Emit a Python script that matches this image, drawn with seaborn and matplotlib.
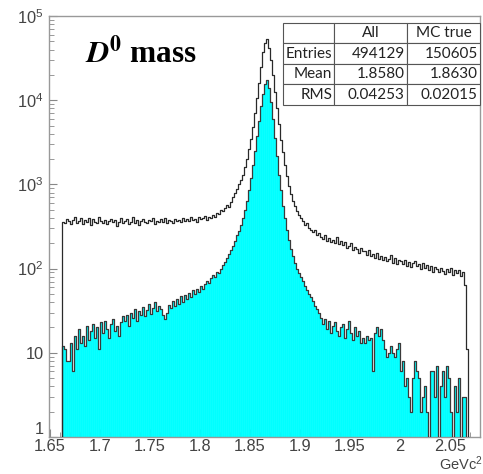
import numpy as np
import pandas as pd
import matplotlib
matplotlib.use("Agg")
import matplotlib.pyplot as plt
import matplotlib.ticker as mticker
import seaborn as sns

# ---------------- data ----------------
# histogram range incl. one empty bin at each end
mass_lo, mass_hi, n_bins = 1.660, 2.070, 205

all_counts = [
    0,
    # 1.662 - 1.810
    360, 345, 390, 370, 335, 380, 410, 350, 365, 395,
    340, 375, 355, 400, 330, 385, 360, 345, 405, 370,
    350, 380, 335, 365, 390, 355, 375, 320, 360, 395,
    345, 370, 385, 340, 360, 405, 350, 375, 330, 365,
    390, 355, 345, 380, 365, 400, 340, 370, 355, 385,
    360, 395, 345, 375, 365, 350, 390, 370, 380, 355,
    400, 365, 385, 370, 410, 375, 390, 360, 405, 385,
    395, 420, 380, 410, 400,
    # 1.812 - 1.918
    430, 410, 460, 440, 500, 480, 530, 570, 540, 620,
    700, 780, 880, 1000, 1120, 1300, 1600, 2000, 2600, 3500,
    4800, 7000, 10500, 16000, 25000, 37000, 48000, 53000, 42000, 30000,
    20000, 12500, 8000, 5200, 3400, 2400, 1700, 1250, 950, 760,
    640, 560, 480, 430, 400, 370, 330, 345, 300, 290,
    270, 285, 250, 265,
    # 1.920 - 2.066
    240, 225, 250, 215, 230, 205, 220, 200, 235, 195,
    210, 190, 205, 175, 185, 200, 165, 180, 170, 155,
    175, 160, 160, 145, 165, 140, 150, 132, 155, 130,
    142, 125, 136, 122, 130, 145, 118, 132, 114, 126,
    122, 112, 125, 108, 120, 104, 116, 122, 106, 112,
    100, 118, 103, 110, 96, 108, 92, 104, 98, 90,
    102, 94, 87, 99, 91, 102, 85, 95, 88, 96,
    82, 90, 64, 11,
    0,
]

mc_true_counts = [
    0,
    12, 11, 8, 8, 13, 6, 16, 11, 19, 13,
    16, 12, 21, 14, 18, 22, 15, 20, 11, 23,
    17, 24, 19, 15, 22, 25, 18, 21, 16, 23,
    27, 24, 28, 21, 30, 26, 33, 24, 31, 28,
    35, 27, 32, 38, 29, 34, 40, 31, 36, 33,
    28, 25, 30, 37, 34, 41, 36, 44, 38, 47,
    40, 49, 43, 52, 46, 55, 50, 58, 53, 62,
    57, 66, 72, 68, 78, 84, 79, 92, 88, 100,
    110, 120, 135, 150, 165, 185, 215, 250, 280, 330,
    400, 500, 640, 850, 1200, 1700, 2500, 3800, 5700, 8500,
    12000, 15500, 17500, 14000, 9500, 6000, 3600, 2200, 1300, 850,
    560, 400, 290, 220, 170, 140, 115, 100, 88, 80,
    72, 62, 55, 50, 46, 41, 36, 33, 30, 26,
    22, 25, 19, 24, 17, 21, 23, 18, 16, 20,
    22, 15, 19, 24, 17, 14, 20, 16, 18, 13,
    15, 13, 16, 14, 15, 6, 17, 20, 16, 19,
    14, 11, 9, 10, 12, 10, 9, 11, 13, 6,
    8, 4, 5, 3, 2, 5, 8, 6, 5, 2,
    3, 4, 2, 0, 6, 6, 3, 7, 0, 4,
    6, 3, 7, 5, 2, 0, 4, 2, 5, 0,
    3, 3, 0,
    0,
]

table_header = ["", "All", "MC true"]
table_rows = [
    ["Entries", "494129", "150605"],
    ["Mean", "1.8580", "1.8630"],
    ["RMS", "0.04253", "0.02015"],
]
x_ticks = [1.65, 1.70, 1.75, 1.80, 1.85, 1.90, 1.95, 2.00, 2.05]
x_tick_labels = ["1.65", "1.7", "1.75", "1.8", "1.85", "1.9", "1.95", "2", "2.05"]
title_text = r"$\mathbfit{D}^{\mathbf{0}}$ mass"
unit_text = r"GeVc$^{2}$"

# ---------------- figure ----------------
edges = list(np.linspace(mass_lo, mass_hi, n_bins + 1))
centers = [0.5 * (a + b) for a, b in zip(edges[:-1], edges[1:])]
df = pd.DataFrame({"mass": centers, "all": all_counts, "mc": mc_true_counts})

plt.rcParams["mathtext.fontset"] = "custom"
plt.rcParams["mathtext.rm"] = "Liberation Sans"
plt.rcParams["mathtext.it"] = "Liberation Sans:italic"
plt.rcParams["mathtext.bf"] = "Liberation Sans:bold"
plt.rcParams["font.family"] = ["Liberation Sans", "DejaVu Sans"]

W, H = 483, 474
fig = plt.figure(figsize=(W / 100, H / 100), dpi=100)
ax_l, ax_r, ax_t, ax_b = 49, 480, 16, 437
ax = fig.add_axes([ax_l / W, 1 - ax_b / H, (ax_r - ax_l) / W, (ax_b - ax_t) / H])

# cyan fill (MC true)
sns.histplot(data=df, x="mass", weights="mc", bins=edges, element="bars",
             fill=True, color="#00ffff", alpha=1, edgecolor="#00ffff",
             linewidth=0.4, ax=ax, zorder=2)
# MC true outline
sns.histplot(data=df, x="mass", weights="mc", bins=edges, element="step",
             fill=False, color="#3a3a3a", linewidth=0.9, ax=ax, zorder=3)
# All outline
sns.histplot(data=df, x="mass", weights="all", bins=edges, element="step",
             fill=False, color="#2a2a2a", linewidth=0.9, ax=ax, zorder=4)

ax.set_yscale("log", nonpositive="clip")
ax.set_xlim(1.649, 2.080)
ax.set_ylim(1, 1e5)
ax.set_xlabel("")
ax.set_ylabel("")
ax.set_axisbelow(True)

ax.set_xticks(x_ticks)
ax.set_xticklabels(x_tick_labels)
ax.xaxis.set_minor_locator(mticker.MultipleLocator(0.01))
ax.yaxis.set_major_locator(mticker.LogLocator(base=10, numticks=10))
ax.yaxis.set_minor_locator(mticker.LogLocator(base=10, subs=np.arange(2, 10), numticks=20))
ax.yaxis.set_minor_formatter(mticker.NullFormatter())

def yfmt(v, pos):
    if v <= 1.5:
        return "1"
    if v <= 15:
        return "10"
    return r"$10^{%d}$" % int(round(np.log10(v)))

ax.yaxis.set_major_formatter(mticker.FuncFormatter(yfmt))

tick_col = "#444444"
ax.tick_params(axis="both", which="both", direction="in", colors="#888888",
               labelcolor=tick_col, labelsize=11.8)
ax.tick_params(axis="both", which="major", length=6)
ax.tick_params(axis="both", which="minor", length=3.8)
ax.tick_params(axis="x", which="both", pad=1.5)
ax.tick_params(axis="y", which="both", pad=4)
for s in ax.spines.values():
    s.set_color("#999999")
    s.set_linewidth(1.0)

# title
fig.text(85 / W, 1 - 63 / H, title_text, fontsize=22.5, fontweight="bold",
         family="Liberation Serif", math_fontfamily="stix", va="baseline",
         ha="left", color="black")

# unit label
fig.text(483 / W, 1 - 473 / H, unit_text, fontsize=10.5, color=tick_col,
         ha="right", va="bottom")

# stats table
tx0, tx1, ty0, ty1 = 283, 480, 23, 105
bbox = [(tx0 - ax_l) / (ax_r - ax_l), (ax_b - ty1) / (ax_b - ax_t),
        (tx1 - tx0) / (ax_r - ax_l), (ty1 - ty0) / (ax_b - ax_t)]
tbl = ax.table(cellText=table_rows, colLabels=table_header, cellLoc="right",
               colLoc="center", colWidths=[51, 73, 73], bbox=bbox, zorder=5)
tbl.auto_set_font_size(False)
for (r, c), cell in tbl.get_celld().items():
    cell.set_edgecolor("#555555")
    cell.set_linewidth(0.8)
    cell.set_facecolor("white")
    cell.PAD = 0.03
    t = cell.get_text()
    t.set_fontfamily("Lato")
    t.set_fontsize(11)
    t.set_color("#222222")

fig.canvas.draw()
for lab in ax.get_yticklabels():
    if lab.get_text() == "1":
        lab.set_verticalalignment("bottom")

fig.savefig("out.png", dpi=100)
